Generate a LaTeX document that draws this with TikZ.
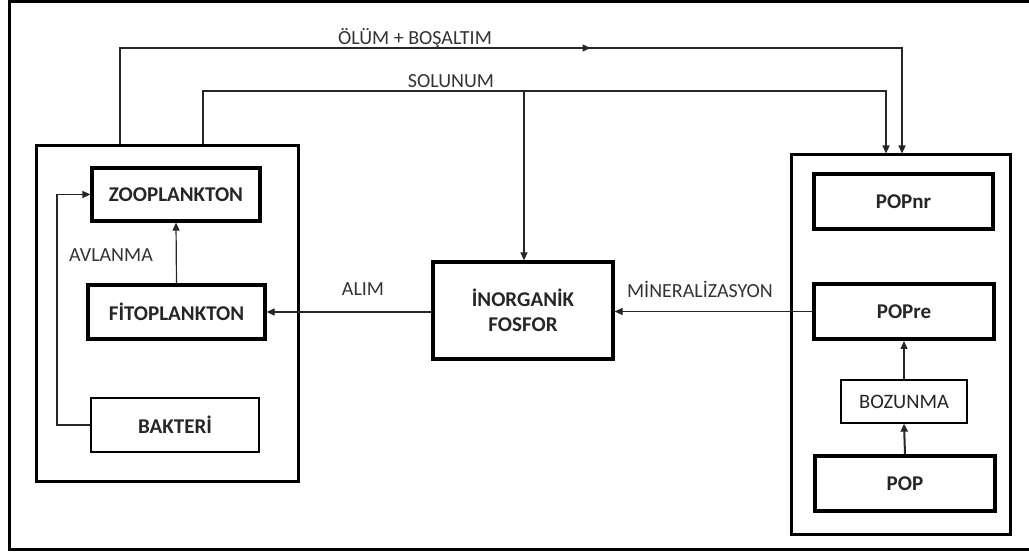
\documentclass[tikz,border=0pt]{standalone}
\usepackage{fontspec}
\setmainfont{Carlito}
\usetikzlibrary{arrows.meta,decorations.markings}
\begin{document}
\begin{tikzpicture}[x=1pt,y=-1pt,
  tip/.style={-{Triangle[length=8pt,width=7pt]}},
  conn/.style={line width=1.2pt,draw=black!85},
  box/.style={draw,rectangle,line width=3.2pt,font=\fontsize{21}{25}\selectfont\bfseries,text=black!85,align=center,inner sep=0pt},
  popbox/.style={box,line width=4pt},
  thinbox/.style={draw,rectangle,line width=1.3pt,font=\fontsize{20.5}{24}\selectfont,text=black!85,inner sep=0pt},
  container/.style={draw,rectangle,line width=3pt,inner sep=0pt},
  lbl/.style={font=\fontsize{20}{24}\selectfont,text=black!80,inner sep=0pt}]
\useasboundingbox (0,0) rectangle (1029,553);
\fill[white] (0,0) rectangle (1029,553);
% outer frame
\draw[line width=3pt] (9,2) rectangle (1045,549);
% containers
\node[container,minimum width=262pt,minimum height=335pt] (left) at (167,313.5) {};
\node[container,minimum width=219pt,minimum height=379pt] (right) at (900.5,344.5) {};
% left boxes
\node[box,minimum width=168pt,minimum height=53pt] (zoo) at (176,194.5) {ZOOPLANKTON};
\node[box,minimum width=177pt,minimum height=54pt] (fito) at (176.5,312) {FİTOPLANKTON};
\node[box,line width=2.6pt,minimum width=168pt,minimum height=54pt] (bak) at (175,425) {BAKTERİ};
% center
\node[box,minimum width=180pt,minimum height=97pt,font=\fontsize{21}{25}\selectfont\bfseries] (inorg) at (523,310.5) {İNORGANİK\\FOSFOR};
% right boxes
\node[popbox,minimum width=179pt,minimum height=55pt] (popnr) at (903.5,201.5) {POPnr};
\node[popbox,minimum width=180pt,minimum height=55pt] (popre) at (904,311.5) {POPre};
\node[thinbox,minimum width=126pt,minimum height=43pt] (boz) at (904,401.5) {BOZUNMA};
\node[popbox,minimum width=180pt,minimum height=55pt] (pop) at (905,483.5) {POP};
% coordinates
\coordinate (o1) at (120,48);
\coordinate (o2) at (902,48);
\coordinate (s1) at (203,91);
\coordinate (s2) at (886,91);
\coordinate (sb) at (524,91);
\coordinate (b1) at (57,425);
\coordinate (b2) at (57,194.5);
% ÖLÜM + BOŞALTIM
\draw[conn,tip,postaction={decorate},decoration={markings,mark=at position 567pt with {\arrow{Triangle[length=8pt,width=7pt]}}}]
  (left.north -| o1) -- (o1) -- (o2) -- (right.north -| o2);
% SOLUNUM
\draw[conn,tip] (left.north -| s1) -- (s1) -- (s2) -- (right.north -| s2);
\draw[conn,tip] (sb) -- (inorg.north -| sb);
% AVLANMA
\draw[conn,tip] (fito.north) -- (zoo.south);
\draw[conn,tip] (bak.west) -- (b1) -- (b2) -- (zoo.west);
% ALIM
\draw[conn,tip] (inorg.west |- fito) -- (fito.east);
% MINERALIZASYON
\draw[conn,tip] (popre.west) -- (popre.west -| inorg.east);
% BOZUNMA
\draw[conn,line width=2pt,tip] (pop.north) -- (boz.south);
\draw[conn,tip] (boz.north) -- (popre.south);
% labels
\node[lbl] (lolum) at (415,38) {ÖLÜM + BOŞALTIM};
\node[lbl] (lsol) at (451,81) {SOLUNUM};
\node[lbl] (lav) at (111,255) {AVLANMA};
\node[lbl] (lalim) at (363,289) {ALIM};
\node[lbl] (lmin) at (700,289) {MİNERALİZASYON};
\end{tikzpicture}
\end{document}
